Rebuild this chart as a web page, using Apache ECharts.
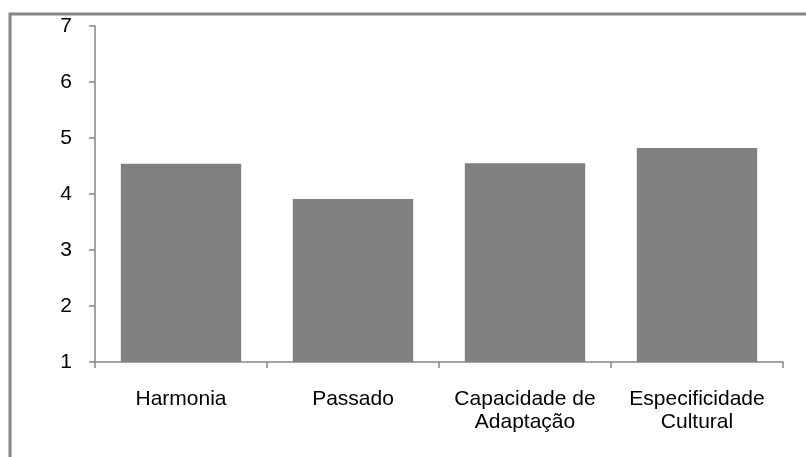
<!DOCTYPE html>
<html>
<head>
<meta charset="utf-8">
<script src="https://cdn.jsdelivr.net/npm/echarts@6/dist/echarts.min.js"></script>
<style>
  html, body { margin: 0; padding: 0; background: #fff; }
  #chart { width: 806px; height: 457px; }
</style>
</head>
<body>
<div id="chart"></div>
<script>
// Mean scores per dimension
const categories = ['Harmonia', 'Passado', 'Capacidade de\nAdaptação', 'Especificidade\nCultural'];
const values = [4.54, 3.91, 4.55, 4.82];

const chart = echarts.init(document.getElementById('chart'));

chart.setOption({
  animation: false,
  graphic: [{
    type: 'rect',
    shape: { x: 10, y: 14, width: 900, height: 900 },
    style: { fill: 'none', stroke: '#868686', lineWidth: 3 },
    silent: true,
  }],
  grid: { left: 95, right: 23, top: 26, bottom: 95 },
  xAxis: {
    type: 'category',
    data: categories,
    axisLine: { lineStyle: { color: '#868686', width: 1.5 } },
    axisTick: { show: true, length: 6, lineStyle: { color: '#868686', width: 1.5 } },
    axisLabel: {
      color: '#000', fontFamily: 'Liberation Sans, Arial', fontSize: 21,
      lineHeight: 23, margin: 26, interval: 0,
    },
  },
  yAxis: {
    type: 'value',
    min: 1, max: 7, interval: 1,
    splitLine: { show: false },
    axisLine: { show: true, lineStyle: { color: '#868686', width: 1.5 } },
    axisTick: { show: true, length: 6, lineStyle: { color: '#868686', width: 1.5 } },
    axisLabel: {
      color: '#000', fontFamily: 'Liberation Sans, Arial', fontSize: 21, margin: 23,
    },
  },
  series: [{
    type: 'bar',
    data: values,
    barCategoryGap: '30%',
    itemStyle: { color: '#808080' },
  }],
});
</script>
</body>
</html>
